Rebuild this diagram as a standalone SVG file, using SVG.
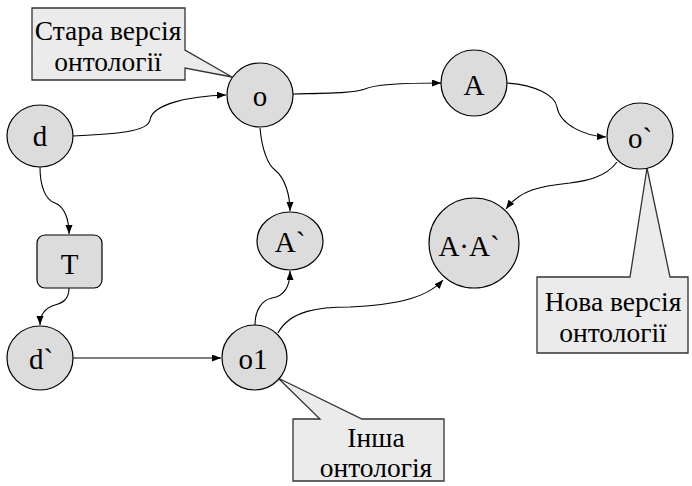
<svg xmlns="http://www.w3.org/2000/svg" width="692" height="486" viewBox="0 0 692 486" font-family="Liberation Serif">
<style>
.node{fill:#dcdcdc;stroke:#000;stroke-width:1.2}
.call{fill:#ebebeb;stroke:#333;stroke-width:1.3}
.edge{fill:none;stroke:#000;stroke-width:1.1;marker-end:url(#arr)}
</style>
<defs>
<marker id="arr" markerWidth="10" markerHeight="8" refX="9" refY="3.5" orient="auto" markerUnits="userSpaceOnUse">
<path d="M0,0 L9,3.5 L0,7 z" fill="#000"/>
</marker>
</defs>
<rect width="692" height="486" fill="#fff"/>
<g id="connectors">
<path class="edge" d="M73,136 C115,134 148,132 150,120 C152,104 190,96 226,95"/>
<path class="edge" d="M293,94 C330,93 355,93 365,89 C375,84 410,83 441,83"/>
<path class="edge" d="M507,83 C535,85 555,95 557,107 C560,125 585,136 606,137"/>
<path class="edge" d="M617,162 C605,178 585,181 570,183 C540,186 520,190 506,209"/>
<path class="edge" d="M260,128 C262,150 268,165 275,170 C285,178 290,195 290,211"/>
<path class="edge" d="M40,167 C40,185 45,200 55,203 C65,207 69,220 69,234"/>
<path class="edge" d="M69,288 C69,300 62,303 55,305 C45,308 40,315 40,325"/>
<path class="edge" d="M73,358 L221,358"/>
<path class="edge" d="M255,325 C255,310 262,300 272,298 C285,296 290,285 290,271"/>
<path class="edge" d="M278,333 C290,310 320,307 350,307 C390,305 425,300 443,280"/>
</g>
<g font-size="27.5" text-anchor="middle">
<g id="callout-old">
<path class="call" d="M32,8 H185 V50 L232,77 L185,68 V80 H32 Z"/>
<text x="108" y="40" font-family="Liberation Serif">Стара версія</text>
<text x="108" y="71" font-family="Liberation Serif">онтології</text>
</g>
<g id="callout-new">
<path class="call" d="M537,277 H630 L647,168 L670,277 H688 V353 H537 Z"/>
<text x="613" y="311" font-family="Liberation Serif">Нова версія</text>
<text x="613" y="342" font-family="Liberation Serif">онтології</text>
</g>
<g id="callout-other">
<path class="call" d="M293,419 H320 L278,378 L362,419 H444 V481 H293 Z"/>
<text x="376" y="447" font-family="Liberation Serif">Інша</text>
<text x="376" y="477" font-family="Liberation Serif">онтологія</text>
</g>
</g>
<g font-size="29" text-anchor="middle">
<g id="node-d"><ellipse class="node" cx="40" cy="136" rx="33" ry="31"/><text x="40" y="146" font-family="Liberation Serif">d</text></g>
<g id="node-o"><ellipse class="node" cx="260" cy="95" rx="33" ry="32"/><text x="260" y="106" font-family="Liberation Serif">o</text></g>
<g id="node-A"><ellipse class="node" cx="474" cy="83" rx="33" ry="33"/><text x="474" y="95" font-family="Liberation Serif">A</text></g>
<g id="node-o2"><ellipse class="node" cx="640" cy="136" rx="33" ry="33"/><text x="640" y="148" font-family="Liberation Serif">o`</text></g>
<g id="node-AA"><ellipse class="node" cx="474" cy="243" rx="45" ry="45"/><text x="469" y="256" font-family="Liberation Serif">A·A`</text></g>
<g id="node-A2"><ellipse class="node" cx="290" cy="241" rx="33" ry="29"/><text x="290" y="252" font-family="Liberation Serif">A`</text></g>
<g id="node-T"><rect class="node" x="37" y="235" width="65" height="53" rx="8"/><text x="69.5" y="274" font-family="Liberation Serif">T</text></g>
<g id="node-d2"><ellipse class="node" cx="40" cy="358" rx="33" ry="32"/><text x="41" y="369" font-family="Liberation Serif">d`</text></g>
<g id="node-o1"><ellipse class="node" cx="254.5" cy="357.5" rx="32.5" ry="32.5"/><text x="253" y="369" font-family="Liberation Serif">o1</text></g>
</g>
</svg>
